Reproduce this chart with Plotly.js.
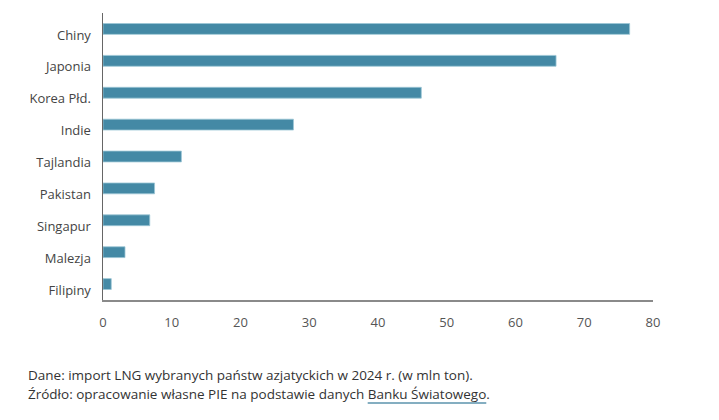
<!DOCTYPE html>
<html>
<head>
<meta charset="utf-8">
<script src="https://cdn.plot.ly/plotly-3.0.1.min.js"></script>
<style>
html,body{margin:0;padding:0;background:#fff;}
#chart{width:719px;height:420px;}
</style>
</head>
<body>
<div id="chart"></div>
<script>
var countries = ["Chiny","Japonia","Korea Płd.","Indie","Tajlandia","Pakistan","Singapur","Malezja","Filipiny"];
var lngImport = [76.6, 65.9, 46.3, 27.7, 11.4, 7.5, 6.8, 3.2, 1.2];
var xTicks = [0,10,20,30,40,50,60,70,80];
var captionLine1 = "Dane: import LNG wybranych państw azjatyckich w 2024 r. (w mln ton).";
var captionLine2a = "Źródło: opracowanie własne PIE na podstawie danych ";
var captionLink = "Banku Światowego";

var trace = {
  type: "bar",
  orientation: "h",
  y: countries,
  x: lngImport,
  marker: {color: "#4489a5", line: {color: "#9cc6d6", width: 0.8}},
  hoverinfo: "x+y"
};

var layout = {
  width: 719, height: 420,
  margin: {l: 102.5, r: 66, t: 13, b: 120, pad: 0},
  paper_bgcolor: "#fff", plot_bgcolor: "#fff",
  bargap: 0.66,
  showlegend: false,
  font: {family: "'Open Sans', sans-serif", color: "#444"},
  xaxis: {
    range: [0, 80], tickvals: xTicks, ticktext: xTicks.map(String),
    showgrid: false, zeroline: false,
    showline: true, linecolor: "#8a8a8a", linewidth: 1.5,
    ticks: "", ticklabelstandoff: 10,
    tickfont: {size: 13, color: "#555"}
  },
  yaxis: {
    type: "category", autorange: false, range: [8.5, -0.5],
    categoryorder: "array", categoryarray: countries,
    showgrid: false, zeroline: false,
    showline: true, linecolor: "#666", linewidth: 1.5,
    ticks: "", ticklabelstandoff: 8, ticklabelshift: -6,
    tickfont: {size: 13, color: "#444"}
  },
  annotations: [
    {xref: "paper", yref: "paper", x: -0.1395, y: -0.263, xanchor: "left", yanchor: "middle",
     showarrow: false, align: "left", text: captionLine1,
     font: {family: "'Open Sans', sans-serif", size: 13.5, color: "#333"}},
    {xref: "paper", yref: "paper", x: -0.1395, y: -0.329, xanchor: "left", yanchor: "middle",
     showarrow: false, align: "left",
     text: captionLine2a + captionLink + ".",
     font: {family: "'Open Sans', sans-serif", size: 13.5, color: "#333"}}
  ]
};

Plotly.newPlot("chart", [trace], layout, {displayModeBar: false, staticPlot: true}).then(function(gd){
  var ann = gd.querySelectorAll(".annotation-text")[1];
  if (!ann) return;
  try {
    var full = ann.textContent;
    var start = full.indexOf(captionLink);
    var s = ann.getStartPositionOfChar(start);
    var e = ann.getEndPositionOfChar(start + captionLink.length - 1);
    var ctm = ann.getCTM();
    var svg = gd.querySelector(".main-svg");
    var pt = svg.createSVGPoint();
    pt.x = s.x; pt.y = s.y; var p1 = pt.matrixTransform(ctm);
    pt.x = e.x; pt.y = e.y; var p2 = pt.matrixTransform(ctm);
    var fl = gd._fullLayout;
    var toPx = function(px){ return (px - fl._size.l) / fl._size.w; };
    var toPy = function(py){ return 1 - (py - fl._size.t) / fl._size.h; };
    Plotly.relayout(gd, {shapes: [{type: "line", xref: "paper", yref: "paper",
      x0: toPx(p1.x), x1: toPx(p2.x), y0: toPy(p1.y + 4), y1: toPy(p1.y + 4),
      line: {color: "#5b93ad", width: 1.3}}]});
  } catch (err) {}
});
</script>
</body>
</html>
